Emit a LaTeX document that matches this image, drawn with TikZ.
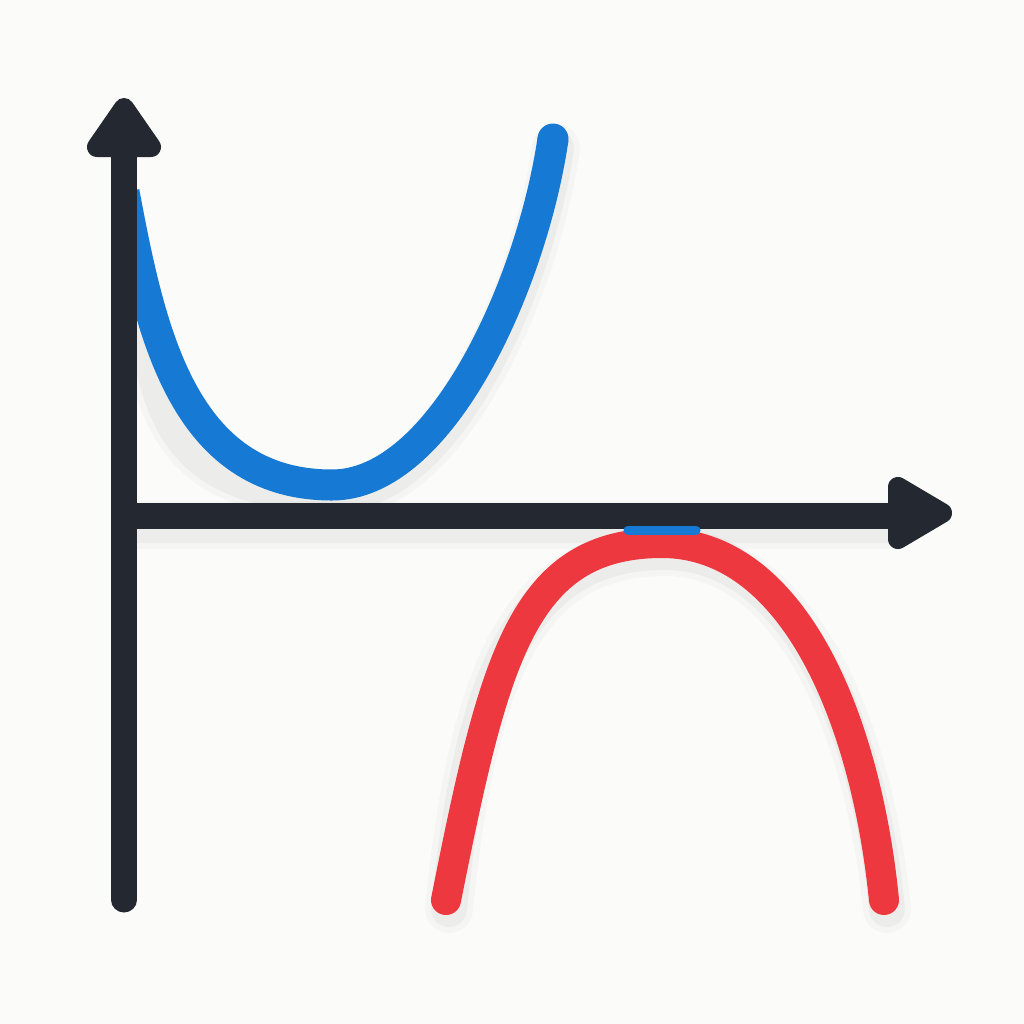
\documentclass[tikz,border=0pt]{standalone}
\definecolor{bgcol}{RGB}{251,251,249}
\definecolor{axiscol}{RGB}{36,40,48}
\definecolor{bluecol}{RGB}{22,122,212}
\definecolor{redcol}{RGB}{238,56,64}
\begin{document}
\begin{tikzpicture}[x=0.01cm,y=-0.01cm,
  axisline/.style={draw=axiscol,line width=0.25cm},
  headtip/.style={fill=axiscol,draw=axiscol,line width=0.2cm,line join=round},
  bluecurve/.style={draw=bluecol,line width=0.31cm},
  redcurve/.style={draw=redcol,line width=0.30cm,line cap=round},
  softA/.style={draw=black,opacity=0.035,line width=0.36cm,line cap=round},
  softB/.style={draw=black,opacity=0.025,line width=0.48cm,line cap=round}]
% canvas
\fill[bgcol] (0,0) rectangle (1024,1024);
\useasboundingbox (0,0) rectangle (1024,1024);

% named points
\coordinate (O) at (124,516);
\coordinate (ybot) at (124,900);
\coordinate (ytop) at (124,150);
\coordinate (xend) at (894,516);
\coordinate (blueV) at (332,485);
\coordinate (blueL) at (124,192);
\coordinate (blueTop) at (553,139);
\coordinate (redV) at (662,543);
\coordinate (redL) at (446,900);
\coordinate (redR) at (884,900);
\coordinate (capL) at (628,530);
\coordinate (capR) at (696,530);

% soft shadows
\begin{scope}[shift={(3,9)}]
\foreach \s in {softA,softB}{
  \draw[\s] (136,516) -- (890,516);
  \draw[\s] (446,900) .. controls (470,660) and (522,543) .. (662,543)
                      .. controls (792,543) and (865.6,716) .. (884,900);
  \draw[\s] (146,330) .. controls (160,430) and (200,485) .. (332,485)
                      .. controls (442,485) and (532,282.5) .. (553,139);
}
\end{scope}

% blue parabola (opening upward)
\begin{scope}
\clip (113,0) rectangle (1024,1024);
\draw[bluecurve,line cap=butt] (blueL) .. controls (150,330) and (182,485) .. (blueV)
     .. controls (442,485) and (532,282.5) .. (blueTop);
\end{scope}
\fill[bluecol] (blueTop) circle (15.5);

% red parabola (opening downward)
\draw[redcurve] (redL) .. controls (494,660) and (522,543) .. (redV)
     .. controls (792,543) and (865.6,716) .. (redR);

% x axis
\draw[axisline] (O) -- (xend);
\draw[headtip] (942,513) -- (898,487) -- (898,539) -- cycle;
% y axis
\draw[axisline,line cap=round] (ybot) -- (ytop);
\draw[headtip] (124,108) -- (97,147) -- (151,147) -- cycle;

% small blue mark at the top of the red curve
\draw[draw=bluecol,line width=0.09cm,line cap=round] (capL) -- (capR);
\end{tikzpicture}
\end{document}
